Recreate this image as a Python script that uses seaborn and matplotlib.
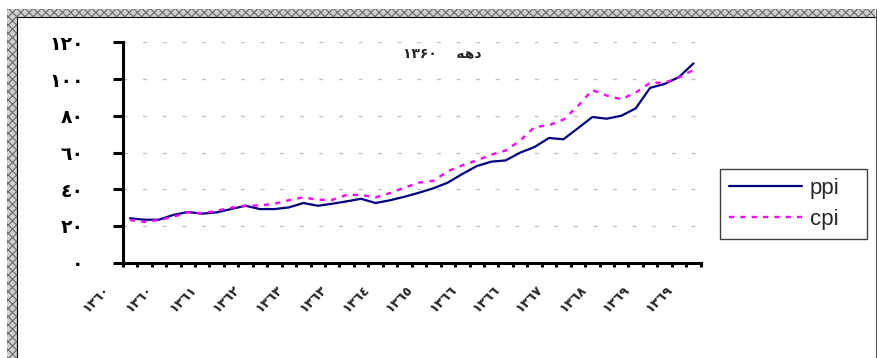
import numpy as np
import matplotlib
matplotlib.use("Agg")
import matplotlib.pyplot as plt
import matplotlib.transforms as mtransforms
from matplotlib.patches import Rectangle
from matplotlib.lines import Line2D
import seaborn as sns

# Quarterly price indices for the 1360s (40 quarters)
quarters = list(range(40))
ppi = [24.2, 23.4, 23.4, 26.0, 27.6, 26.7, 27.4, 29.2, 31.0, 29.2,
       29.2, 30.1, 32.5, 31.0, 32.1, 33.4, 34.8, 32.5, 34.0, 35.9,
       38.1, 40.5, 43.6, 48.3, 52.6, 55.0, 55.7, 59.9, 63.0, 67.9,
       67.2, 73.2, 79.3, 78.4, 80.0, 84.0, 95.2, 97.3, 101.1, 108.5]
cpi = [23.2, 22.2, 23.2, 25.0, 27.4, 26.9, 28.3, 29.9, 31.0, 31.2,
       32.1, 34.0, 35.6, 34.3, 34.2, 36.9, 36.9, 35.6, 37.9, 40.9,
       43.6, 44.6, 49.8, 53.0, 55.7, 58.8, 61.1, 66.4, 73.9, 74.8,
       77.9, 85.3, 94.0, 91.0, 89.0, 92.6, 98.0, 98.0, 100.8, 105.0]

xtick_pos = [0, 3, 6, 9, 12, 15, 18, 21, 24, 27, 30, 33, 36, 39]
xtick_labels = ["١٣٦٠", "١٣٦٠", "١٣٦١", "١٣٦٢", "١٣٦٣", "١٣٦٣", "١٣٦٤",
                "١٣٦٥", "١٣٦٦", "١٣٦٦", "١٣٦٧", "١٣٦٨", "١٣٦٩", "١٣٦٩"]
ytick_vals = [0, 20, 40, 60, 80, 100, 120]
ytick_labels = ["٠", "٢٠", "٤٠", "٦٠", "٨٠", "١٠٠", "١٢٠"]
series_names = ["ppi", "cpi"]
title_text = "۱۳۶۰    ﻪﻫﺩ"

sns.set_style("white")
plt.rcParams["font.family"] = ["DejaVu Sans"]
plt.rcParams["hatch.linewidth"] = 0.8

W, H = 877, 358
fig = plt.figure(figsize=(W / 100, H / 100), dpi=100)
fig.patch.set_facecolor("white")


def fx(px):
    return px / W


def fy(py):
    return 1 - py / H


# textured frame on the top and left edges
band_kw = dict(facecolor="#cfcfcf", edgecolor="#6a6a6a", hatch="xxxx",
               lw=0, transform=fig.transFigure, zorder=0)
fig.patches.append(Rectangle((fx(7), fy(16.7)), fx(868), 7.7 / H, **band_kw))
fig.patches.append(Rectangle((fx(7), 0), fx(9.7), fy(9), **band_kw))
fig.lines.append(Line2D([fx(16.7), fx(16.7)], [0, fy(16.7)], color="black",
                        lw=0.8, transform=fig.transFigure))
fig.lines.append(Line2D([fx(16.7), fx(875)], [fy(16.7), fy(16.7)], color="black",
                        lw=0.8, transform=fig.transFigure))
fig.lines.append(Line2D([fx(875.5), fx(875.5)], [0, fy(9)], color="#555555",
                        lw=0.8, transform=fig.transFigure))

ax = fig.add_axes([fx(122.7), fy(262.7), fx(700.7 - 122.7), (262.7 - 42.3) / H])
ax.set_facecolor("white")

sns.lineplot(x=quarters, y=ppi, color="#000080", linewidth=1.6, ax=ax,
             label=series_names[0], zorder=3)
sns.lineplot(x=quarters, y=cpi, color="#FF00FF", linewidth=1.7, ax=ax,
             label=series_names[1], zorder=3)
ax.lines[1].set_linestyle((0, (2.2, 2.6)))

ax.set_xlim(-0.5, 39.5)
ax.set_ylim(0, 120)
ax.set_xlabel("")
ax.set_ylabel("")

for side in ("top", "right"):
    ax.spines[side].set_visible(False)
for side in ("left", "bottom"):
    ax.spines[side].set_linewidth(2.2)
    ax.spines[side].set_color("black")

ax.set_yticks(ytick_vals, ytick_labels)
ax.tick_params(axis="y", which="major", left=True, direction="out", length=7,
               width=2.2, pad=21, labelsize=13.5, colors="black")
for t in ax.get_yticklabels():
    t.set_fontweight("bold")

ax.set_xticks(xtick_pos, xtick_labels)
ax.set_xticks(np.arange(-0.5, 40, 1), minor=True)
ax.tick_params(axis="x", which="major", bottom=True, length=0, pad=14.5,
               labelsize=9.5)
ax.tick_params(axis="x", which="minor", bottom=True, direction="out",
               length=3.2, width=2.2, colors="black")
shift = mtransforms.ScaledTranslation(-18 / 100, 0, fig.dpi_scale_trans)
for t in ax.get_xticklabels():
    t.set_rotation(45)
    t.set_ha("right")
    t.set_va("top")
    t.set_fontweight("bold")
    t.set_transform(t.get_transform() + shift)

ax.yaxis.grid(True, color="#c4c4c4", linewidth=1.0, linestyle=(0, (2.9, 11.2)))
ax.xaxis.grid(False)
ax.set_axisbelow(True)

handles, labels = ax.get_legend_handles_labels()
leg = ax.legend(handles, labels, loc="upper left",
                bbox_to_anchor=(fx(720), fy(241), 147 / W, 72 / H),
                bbox_transform=fig.transFigure, mode="expand",
                frameon=True, fancybox=False, framealpha=1,
                edgecolor="#404040",
                prop={"family": "Liberation Sans", "size": 16},
                handlelength=3.3, handletextpad=0.35, borderpad=0.4,
                labelspacing=0.45, borderaxespad=0)
leg.get_frame().set_linewidth(1.0)

fig.text(fx(442), fy(53), title_text, ha="center", va="center", fontsize=10,
         fontweight="bold")

fig.savefig("out.png", dpi=100)
